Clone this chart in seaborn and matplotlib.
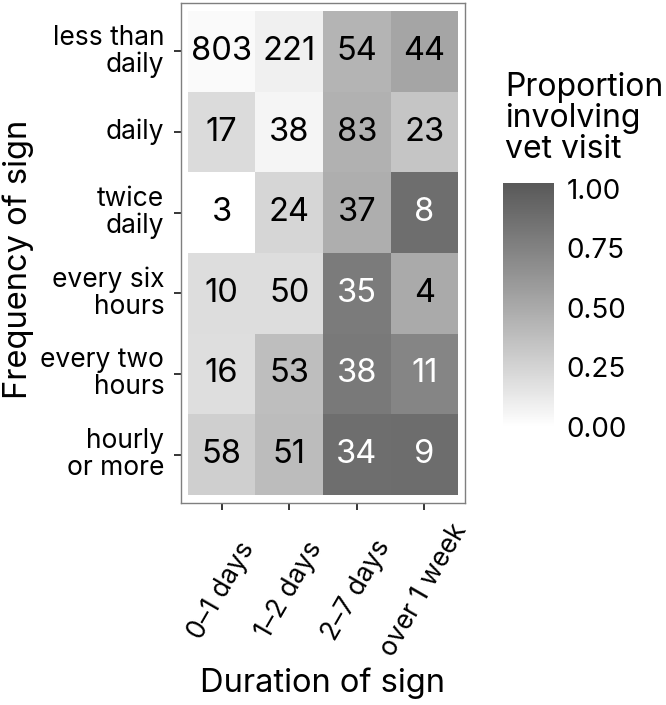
import numpy as np
import pandas as pd
import matplotlib
matplotlib.use('Agg')
import matplotlib.pyplot as plt
import seaborn as sns
from matplotlib.colors import ListedColormap

# data
durations = ['0–1 days', '1–2 days', '2–7 days', 'over 1 week']
frequencies = ['less than\ndaily', 'daily', 'twice\ndaily', 'every six\nhours',
               'every two\nhours', 'hourly\nor more']
counts = [[803, 221, 54, 44],
          [17, 38, 83, 23],
          [3, 24, 37, 8],
          [10, 50, 35, 4],
          [16, 53, 38, 11],
          [58, 51, 34, 9]]
prop_vet = [[0.03, 0.09, 0.44, 0.53],
            [0.21, 0.06, 0.46, 0.34],
            [0.00, 0.24, 0.48, 0.88],
            [0.20, 0.20, 0.80, 0.50],
            [0.19, 0.38, 0.81, 0.73],
            [0.28, 0.39, 0.88, 0.89]]
cbar_ticks = [0.0, 0.25, 0.5, 0.75, 1.0]


def lab_grey_cmap(high=0x59, n=256):
    """white -> grey ramp interpolated in L* like ggplot's scale_fill_gradient"""
    c = high / 255
    lin = ((c + 0.055) / 1.055) ** 2.4
    L_high = 116 * lin ** (1 / 3) - 16
    L = np.linspace(100, L_high, n)
    Y = ((L + 16) / 116) ** 3
    g = 1.055 * Y ** (1 / 2.4) - 0.055
    g = np.clip(g, 0, 1)
    return ListedColormap(np.column_stack([g, g, g]))


sns.set_style('white')
plt.rcParams['font.family'] = ['Inter', 'DejaVu Sans']
plt.rcParams.update({'text.color': 'black', 'axes.labelcolor': 'black',
                     'xtick.color': 'black', 'ytick.color': 'black'})

W, H = 666, 705
fig = plt.figure(figsize=(W / 100, H / 100), dpi=100)
ax = fig.add_axes([181 / W, 1 - 503 / H, 284 / W, 500 / H])
cax = fig.add_axes([503 / W, 1 - 427 / H, 51 / W, 244 / H])

df = pd.DataFrame(prop_vet, index=frequencies, columns=durations)
sns.heatmap(df, ax=ax, cbar_ax=cax, cmap=lab_grey_cmap(), vmin=0, vmax=1.025,
            annot=np.array(counts), fmt='d', annot_kws={'size': 23.5},
            cbar_kws={'ticks': cbar_ticks})

for txt, p in zip(ax.texts, np.ravel(prop_vet)):
    txt.set_color('white' if p > 0.65 else 'black')

ax.set_xlim(-0.1, 4.1)
ax.set_ylim(6.1, -0.1)
for s in ax.spines.values():
    s.set_visible(True)
    s.set_color('#7f7f7f')
    s.set_linewidth(1.0)

ax.tick_params(axis='both', bottom=True, left=True, length=5, width=1.1,
               color='black', labelsize=19)
ax.tick_params(axis='x', pad=58)
ax.tick_params(axis='y', pad=7)
ax.set_xticklabels(durations, rotation=60, ha='center', va='center',
                   rotation_mode='default')
ax.set_yticklabels(frequencies, rotation=0, ha='right', va='center',
                   linespacing=1.05)

ax.set_xlabel('Duration of sign', fontsize=23.5)
ax.set_ylabel('Frequency of sign', fontsize=23.5)
ax.xaxis.set_label_coords(0.5, (503 - 683) / 500)
ax.xaxis.label.set_va('center')
ax.yaxis.set_label_coords((18 - 181) / 284, (503 - 259) / 500)
ax.yaxis.label.set_va('center')

cbar = ax.collections[0].colorbar
cbar.outline.set_visible(False)
cbar.set_ticklabels([f'{t:.2f}' for t in cbar_ticks])
cax.tick_params(which='major', direction='in', left=True, right=True,
                color='white', length=7, width=0.8, labelsize=20, pad=9)
cax.minorticks_off()

fig.text(505 / W, 1 - 72 / H, 'Proportion\ninvolving\nvet visit',
         fontsize=23, ha='left', va='top', linespacing=1.0)

fig.savefig('out.png', dpi=100)
